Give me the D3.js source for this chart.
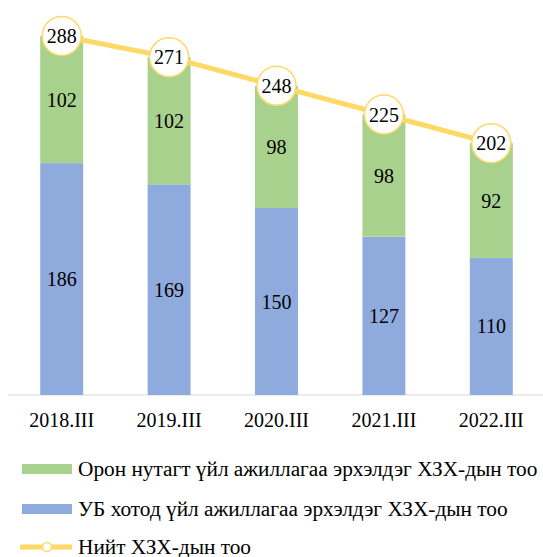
<!DOCTYPE html>
<html>
<head>
<meta charset="utf-8">
<script src="https://cdn.jsdelivr.net/npm/d3@7"></script>
<style>
  body { margin: 0; background: #fff; }
  text { font-family: "Liberation Serif", "Times New Roman", serif; fill: #000; }
</style>
</head>
<body>
<svg id="chart" width="543" height="557"></svg>
<script>
const years = ['2018.III', '2019.III', '2020.III', '2021.III', '2022.III'];
const ubValues = [186, 169, 150, 127, 110];
const ruralValues = [102, 102, 98, 98, 92];
const totalValues = [288, 271, 248, 225, 202];
const seriesNames = [
  'Орон нутагт үйл ажиллагаа эрхэлдэг ХЗХ-дын тоо',
  'УБ хотод үйл ажиллагаа эрхэлдэг ХЗХ-дын тоо',
  'Нийт ХЗХ-дын тоо'
];

const colors = { ub: '#8FAADC', rural: '#A9D18E', total: '#FFD966' };

const svg = d3.select('#chart');

const x = d3.scaleBand().domain(years).range([8, 545]).paddingInner(0.6).paddingOuter(0.3);
const y = d3.scaleLinear().domain([0, 300]).range([395, 21]);

const rows = years.map(function(yr, i) {
  return { year: yr, ub: ubValues[i], rural: ruralValues[i], total: totalValues[i] };
});

// baseline
svg.append('line')
  .attr('x1', 8).attr('x2', 543)
  .attr('y1', y(0)).attr('y2', y(0))
  .attr('stroke', '#d9d9d9').attr('stroke-width', 1);

// bars
const bars = svg.append('g').selectAll('g').data(rows).enter().append('g');
bars.append('rect')
  .attr('x', d => x(d.year)).attr('width', x.bandwidth())
  .attr('y', d => y(d.ub)).attr('height', d => y(0) - y(d.ub))
  .attr('fill', colors.ub);
bars.append('rect')
  .attr('x', d => x(d.year)).attr('width', x.bandwidth())
  .attr('y', d => y(d.ub + d.rural)).attr('height', d => y(d.ub) - y(d.ub + d.rural))
  .attr('fill', colors.rural);

bars.append('text')
  .attr('x', d => x(d.year) + x.bandwidth() / 2)
  .attr('y', d => (y(0) + y(d.ub)) / 2)
  .attr('dy', '0.35em').attr('text-anchor', 'middle').attr('font-size', 20)
  .text(d => d.ub);
bars.append('text')
  .attr('x', d => x(d.year) + x.bandwidth() / 2)
  .attr('y', d => (y(d.ub) + y(d.ub + d.rural)) / 2)
  .attr('dy', '0.35em').attr('text-anchor', 'middle').attr('font-size', 20)
  .text(d => d.rural);

// total line
const cx = d => x(d.year) + x.bandwidth() / 2;
svg.append('path')
  .datum(rows)
  .attr('fill', 'none').attr('stroke', colors.total).attr('stroke-width', 5)
  .attr('d', d3.line().x(cx).y(d => y(d.total)));

const pts = svg.append('g').selectAll('g').data(rows).enter().append('g');
pts.append('circle')
  .attr('cx', cx).attr('cy', d => y(d.total)).attr('r', 19.5)
  .attr('fill', '#fff').attr('stroke', colors.total).attr('stroke-width', 1.5);
pts.append('text')
  .attr('x', cx).attr('y', d => y(d.total))
  .attr('dy', '0.35em').attr('text-anchor', 'middle').attr('font-size', 20)
  .text(d => d.total);

// x axis labels
svg.append('g').selectAll('text').data(years).enter().append('text')
  .attr('x', d => x(d) + x.bandwidth() / 2)
  .attr('y', 420)
  .attr('dy', '0.35em')
  .attr('text-anchor', 'middle').attr('font-size', 20)
  .text(d => d);

// legend
const legend = svg.append('g');
const legendY = [469, 509, 547];
legend.append('rect').attr('x', 22).attr('y', legendY[0] - 5).attr('width', 50).attr('height', 10).attr('fill', colors.rural);
legend.append('rect').attr('x', 22).attr('y', legendY[1] - 5).attr('width', 50).attr('height', 10).attr('fill', colors.ub);
legend.append('line').attr('x1', 20).attr('x2', 72).attr('y1', legendY[2]).attr('y2', legendY[2])
  .attr('stroke', colors.total).attr('stroke-width', 5);
legend.append('circle').attr('cx', 47).attr('cy', legendY[2]).attr('r', 4.5)
  .attr('fill', '#fff').attr('stroke', colors.total).attr('stroke-width', 1.5);
legend.selectAll('text').data(seriesNames).enter().append('text')
  .attr('x', 78).attr('y', (d, i) => legendY[i])
  .attr('dy', '0.35em').attr('font-size', 21.3)
  .text(d => d);
</script>
</body>
</html>
